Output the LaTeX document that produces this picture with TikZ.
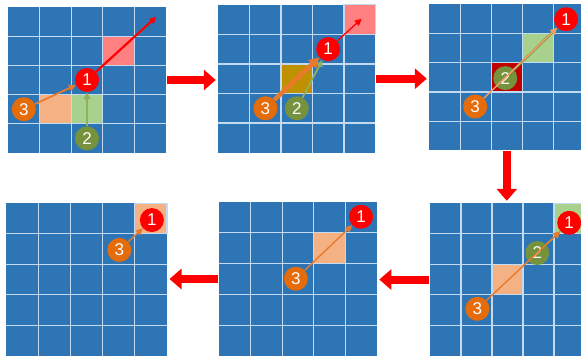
\documentclass[tikz,border=0pt]{standalone}
\usepackage{fontspec}
\setsansfont{Liberation Sans}
\usetikzlibrary{arrows.meta}
\definecolor{cellblue}{RGB}{46,117,182}
\definecolor{gridwhite}{RGB}{196,218,240}
\definecolor{hotred}{RGB}{255,0,0}
\definecolor{salmon}{RGB}{255,128,128}
\definecolor{peach}{RGB}{244,177,131}
\definecolor{leaf}{RGB}{169,209,142}
\definecolor{ochre}{RGB}{191,144,0}
\definecolor{maroon}{RGB}{192,0,0}
\definecolor{tangerine}{RGB}{228,108,10}
\definecolor{moss}{RGB}{118,146,60}
\definecolor{sage}{RGB}{143,176,92}
\definecolor{orangeline}{RGB}{232,122,45}
\definecolor{paleorange}{RGB}{242,160,100}
\tikzset{
    walk diagram/.style = {x=1pt, y=-1pt, >={Triangle[length=7pt, width=6.5pt]}},
    panel/.style n args = {4}{shift={(#1,#2)}, x=#3pt, y=-#4pt},
    panel a/.style      = {panel={8}{7}{31.6}{29.2}},
    panel b/.style      = {panel={218.3}{4.7}{31.4}{29.6}},
    panel c/.style      = {panel={429.3}{4}{31}{29.3}},
    panel d/.style      = {panel={6}{203.3}{32.2}{30.5}},
    panel e/.style      = {panel={219.3}{202}{31.5}{30.8}},
    panel f/.style      = {panel={430}{203.3}{31}{30.5}},
    gridline/.style     = {draw=gridwhite, line width=1.3pt},
    cell/.style         = {gridline, fill=#1},
    ball/.style         = {circle, minimum size=24pt, inner sep=0pt, text=white,
                           font=\sffamily\fontsize{17}{17}\selectfont},
    ball one/.style     = {ball, fill=hotred},
    ball two/.style     = {ball, fill=moss},
    ball three/.style   = {ball, fill=tangerine},
    redpath/.style      = {->, draw=hotred, line width=1.8pt},
    greenpath/.style    = {->, draw=sage, line width=1.8pt},
    orangepath/.style   = {->, draw=orangeline, line width=1.8pt},
    bigarrow/.style     = {-{Triangle[length=12pt, width=20pt]}, draw=hotred,
                           line width=8pt, shorten <=1pt, shorten >=2.5pt}
}

\begin{document}
\begin{tikzpicture}[walk diagram]
\path[use as bounding box] (0,0) rectangle (581,358);
\clip (0,0) rectangle (581,358);

% Boards: 5x5 blue cells with light grid lines
\foreach \p in {a,b,c,d,e,f} {
    \begin{scope}[panel \p]
        \fill[cellblue] (0,0) rectangle (5,5);
        \foreach \i in {1,...,4}
            \draw[gridline] (\i,0) -- (\i,5) (0,\i) -- (5,\i);
        \coordinate (\p-n) at (2.5,0);
        \coordinate (\p-s) at (2.5,5);
        \coordinate (\p-w) at (0,2.5);
        \coordinate (\p-e) at (5,2.5);
    \end{scope}
}

% Step 1
\begin{scope}[panel a]
    \path[cell=salmon] (3,1) rectangle ++(1,1);
    \path[cell=peach] (1,3) rectangle ++(1,1);
    \path[cell=leaf] (2,3) rectangle ++(1,1);
    \node[ball one] (a1) at (2.5,2.5) {1};
    \node[ball two] (a2) at (2.5,4.5) {2};
    \node[ball three] (a3) at (0.5,3.5) {3};
    \coordinate (a-tip) at (4.7,0.33);
    \draw[redpath, line width=2.2pt] (a1) -- (a-tip);
    \draw[greenpath] (a2) -- (a1);
    \draw[orangepath] (a3) -- (a1);
\end{scope}

% Step 2
\begin{scope}[panel b]
    \path[cell=salmon] (4,0) rectangle ++(1,1);
    \path[cell=ochre] (2,2) rectangle ++(1,1);
    \node[ball one] (b1) at (3.5,1.5) {1};
    \node[ball two] (b2) at (2.5,3.5) {2};
    \node[ball three] (b3) at (1.5,3.5) {3};
    \coordinate (b-tip) at (4.57,0.47);
    \draw[redpath, line width=1.3pt] (b1) -- (b-tip);
    \draw[greenpath] (b2) -- (b1);
    \draw[orangepath, line width=4.5pt, -{Triangle[length=10pt, width=11pt]}] (b3) -- (b1);
\end{scope}

% Step 3
\begin{scope}[panel c]
    \path[cell=leaf] (3,1) rectangle ++(1,1);
    \path[cell=maroon] (2,2) rectangle ++(1,1);
    \node[ball one] (c1) at (4.41,0.52) {1};
    \node[ball two] (c2) at (2.45,2.53) {2};
    \node[ball three] (c3) at (1.48,3.5) {3};
    \draw[greenpath, draw=moss, line width=2.4pt] (c2) -- (c1);
    \draw[orangepath, draw=paleorange, line width=1.4pt] (c3) -- (c1);
\end{scope}

% Step 4
\begin{scope}[panel f]
    \path[cell=leaf] (4,0) rectangle ++(1,1);
    \path[cell=peach] (2,2) rectangle ++(1,1);
    \node[ball one] (f1) at (4.49,0.64) {1};
    \node[ball two] (f2) at (3.46,1.63) {2};
    \node[ball three] (f3) at (1.53,3.46) {3};
    \draw[greenpath, line width=1.4pt] (f2) -- (f1);
    \draw[orangepath, line width=1.4pt] (f3) -- (f1);
\end{scope}

% Step 5
\begin{scope}[panel e]
    \path[cell=peach] (3,1) rectangle ++(1,1);
    \node[ball one] (e1) at (4.5,0.48) {1};
    \node[ball three] (e3) at (2.43,2.49) {3};
    \draw[orangepath, line width=1.4pt] (e3) -- (e1);
\end{scope}

% Step 6
\begin{scope}[panel d]
    \path[cell=peach] (4,0) rectangle ++(1,1);
    \node[ball one] (d1) at (4.53,0.55) {1};
    \node[ball three] (d3) at (3.52,1.53) {3};
    \draw[orangepath, line width=1.4pt] (d3) -- (d1);
\end{scope}

% Big arrows between the steps
\draw[bigarrow] (a-e) -- (a-e -| b-w);
\draw[bigarrow] (b-e) -- (b-e -| c-w);
\draw[bigarrow] (c-s) -- (c-s |- f-n);
\draw[bigarrow] (f-w) -- (f-w -| e-e);
\draw[bigarrow] (e-w) -- (e-w -| d-e);

\end{tikzpicture}
\end{document}
